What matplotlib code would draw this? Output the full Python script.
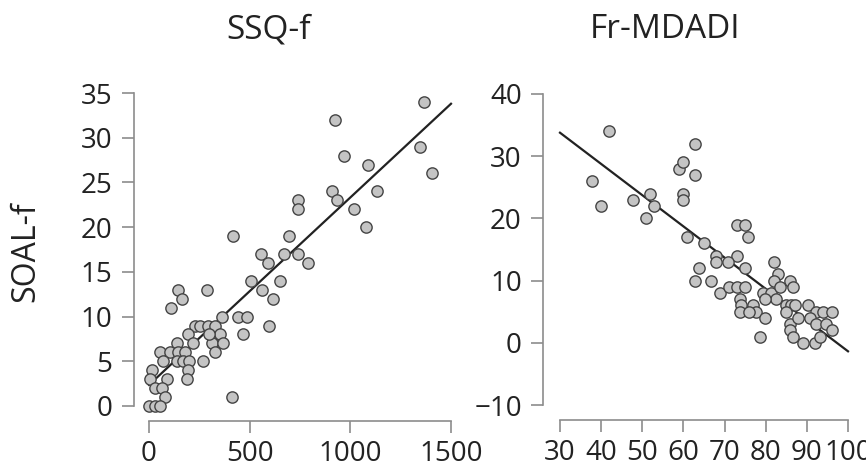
import numpy as np
import matplotlib
matplotlib.use("Agg")
import matplotlib.pyplot as plt

plt.rcParams['font.family'] = ['Open Sans', 'DejaVu Sans']

# SSQ-f vs SOAL-f
ssq = [1368, 924, 969, 1348, 1089, 1407, 1132, 909, 932, 742, 742, 1017, 1080,
       419, 695, 556, 669, 742, 591, 791, 507, 652, 560, 286, 142, 162, 614,
       109, 364, 443, 485, 228, 253, 294, 328, 594, 195, 352, 468, 137, 311,
       369, 55, 104, 146, 179, 328, 71, 137, 170, 200, 267, 17, 192, 5, 91,
       187, 30, 63, 79, 411, 0, 30, 55, 300, 220]
soal_l = [34, 32, 28, 29, 27, 26, 24, 24, 23, 23, 22, 22, 20,
          19, 19, 17, 17, 17, 16, 16, 14, 14, 13, 13, 13, 12, 12,
          11, 10, 10, 10, 9, 9, 9, 9, 9, 8, 8, 8, 7, 7,
          7, 6, 6, 6, 6, 6, 5, 5, 5, 5, 5, 4, 4, 3, 3,
          3, 2, 2, 1, 1, 0, 0, 0, 8, 7]

# Fr-MDADI vs SOAL-f
mdadi = [41.9, 37.8, 40, 47.8, 50.8, 51.8, 52.8, 58.9, 59.9, 62.9, 62.9, 59.8,
         59.8, 60.9, 64.9, 75.7, 72.9, 74.9, 62.9, 63.9, 66.8, 68, 72.9, 68,
         70.9, 74.9, 81.9, 82.9, 81.9, 85.8, 68.8, 71.1, 72.9, 74.9, 79.3,
         81.4, 83.4, 86.6, 73.7, 73.9, 73.7, 76.9, 77.7, 79.8, 78.7, 82.6,
         79.9, 85, 86.2, 87, 85, 90.3, 92.3, 93.9, 96, 85.8, 85.8, 86.6, 89,
         91.9, 93.1, 90.7, 92.3, 94.7, 96, 87.8, 75.9]
soal_r = [34, 26, 22, 23, 20, 24, 22, 28, 29, 32, 27, 24,
          23, 17, 16, 17, 19, 19, 10, 12, 10, 14, 14, 13,
          13, 12, 13, 11, 10, 10, 8, 9, 9, 9, 8,
          8, 9, 9, 7, 6, 5, 6, 5, 4, 1, 7,
          7, 6, 6, 6, 5, 6, 5, 5, 5, 3, 2, 1, 0,
          0, 1, 4, 3, 3, 2, 4, 5]

fig = plt.figure(figsize=(8.66, 4.70), dpi=100)
ax1 = fig.add_axes([149/866, 64/470, 302/866, 313/470])
ax2 = fig.add_axes([560/866, 65/470, 288/866, 311/470])

panels = [
    (ax1, ssq, soal_l, (0, 1500), [0, 500, 1000, 1500], (0, 35), range(0, 36, 5), 11),
    (ax2, mdadi, soal_r, (30, 100), range(30, 101, 10), (-10, 40), range(-10, 41, 10), 12),
]

for ax, x, y, xl, xt, yl, yt, off in panels:
    x = np.array(x, float)
    y = np.array(y, float)
    b, a = np.polyfit(x, y, 1)
    xx = np.array(xl, float)
    ax.plot(xx, a + b * xx, color='#222222', lw=1.6, zorder=2, clip_on=False)
    ax.scatter(x, y, s=66, facecolor='#c4c4c4', edgecolor='#444444',
               linewidth=1.0, zorder=3, clip_on=False)
    ax.set_xlim(xl)
    ax.set_ylim(yl)
    ax.set_xticks(list(xt))
    ax.set_yticks(list(yt))
    for s in ['top', 'right']:
        ax.spines[s].set_visible(False)
    for s in ['left', 'bottom']:
        ax.spines[s].set_color('#8c8c8c')
        ax.spines[s].set_linewidth(1.2)
    ax.spines['left'].set_position(('outward', off))
    ax.spines['bottom'].set_position(('outward', 11))
    ax.tick_params(colors='#8c8c8c', labelcolor='#222222', length=8.5,
                   width=1.2, labelsize=20)
    ax.tick_params(axis='x', pad=5)
    ax.tick_params(axis='y', pad=7)
    ax.patch.set_visible(False)

fig.text(269/866, 1 - 38/470, 'SSQ-f', ha='center', va='baseline',
         fontsize=24, color='#222222')
fig.text(665/866, 1 - 38/470, 'Fr-MDADI', ha='center', va='baseline',
         fontsize=24, color='#222222')
fig.text(26/866, 1 - 252/470, 'SOAL-f', ha='center', va='center',
         rotation=90, fontsize=23, color='#222222')

fig.savefig('out.png', dpi=100)
